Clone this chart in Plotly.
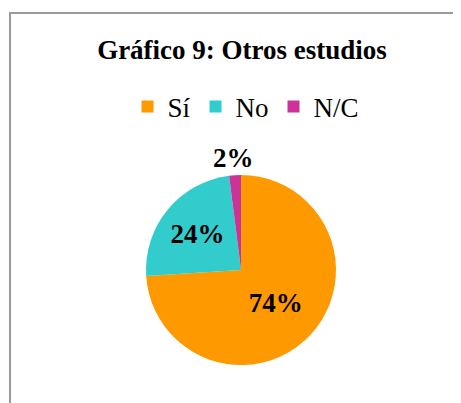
import math
import plotly.graph_objects as go

# Datos del gráfico
categorias = ['Sí', 'No', 'N/C']
valores = [74, 24, 2]
colores = ['#FF9900', '#33CCCC', '#CC3399']
posiciones_texto = ['inside', 'inside', 'none']  # la etiqueta de N/C va fuera

W, H = 461, 403
OFF = 8  # margen del <body> en la página html
fuente = 'Liberation Serif, Times New Roman, serif'

# Centro del pastel ~ (241, 270) px, radio ~ 95 px
cx, cy, r = 241 - OFF, 270 - OFF, 95

fig = go.Figure()
fig.add_trace(go.Pie(
    labels=categorias,
    values=valores,
    marker=dict(colors=colores, line=dict(width=0)),
    sort=False,
    direction='clockwise',
    rotation=0,
    textinfo='percent',
    textposition=posiciones_texto,
    texttemplate='<b>%{percent:.0%}</b>',
    textfont=dict(family=fuente, size=27, color='black'),
    insidetextorientation='horizontal',
    domain=dict(x=[(cx - r) / W, (cx + r) / W],
                y=[1 - (cy + r) / H, 1 - (cy - r) / H]),
    hoverinfo='label+percent',
))

# Etiqueta exterior de N/C, colocada en la bisectriz de su sector
total = sum(valores)
ang = 2 * math.pi * (sum(valores[:2]) + valores[2] / 2) / total
dist = r + 17
fig.add_annotation(
    xref='paper', yref='paper',
    x=(cx + dist * math.sin(ang)) / W,
    y=1 - (cy - dist * math.cos(ang)) / H,
    text='<b>%d%%</b>' % round(100 * valores[2] / total),
    showarrow=False, xanchor='center', yanchor='middle',
    font=dict(family=fuente, size=27, color='black'),
)

# Marco gris alrededor del gráfico
fig.add_shape(type='rect', xref='paper', yref='paper',
              x0=(10 - OFF) / W, x1=1.05, y0=-0.05, y1=1 - (13 - OFF) / H,
              line=dict(color='#9a9a9a', width=2))

fig.update_layout(
    width=W, height=H,
    margin=dict(l=0, r=0, t=0, b=0),
    paper_bgcolor='white',
    plot_bgcolor='white',
    title=dict(text='<b>Gráfico 9: Otros estudios</b>',
               x=(242 - OFF) / W, xanchor='center',
               y=1 - (50 - OFF) / H, yanchor='middle',
               font=dict(family=fuente, size=27, color='black')),
    legend=dict(orientation='h',
                x=(246 - OFF) / W, xanchor='center',
                y=1 - (107 - OFF) / H, yanchor='middle',
                font=dict(family=fuente, size=27, color='black'),
                itemwidth=30, traceorder='normal'),
    showlegend=True,
)

fig.write_html("out.html")
